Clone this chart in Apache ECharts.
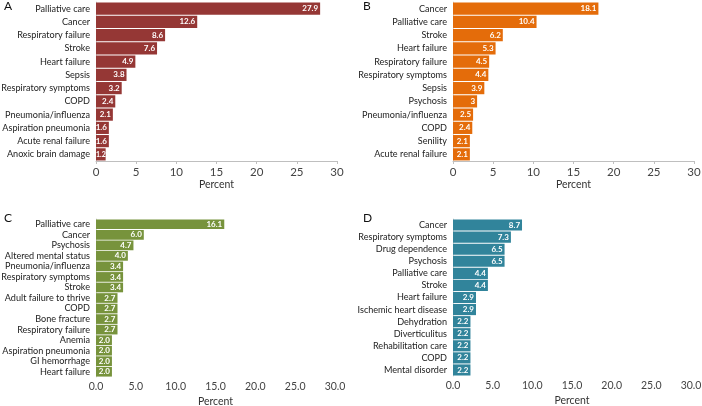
<!DOCTYPE html>
<html>
<head>
<meta charset="utf-8">
<script src="https://cdn.jsdelivr.net/npm/echarts@6/dist/echarts.min.js"></script>
<style>
html, body { margin: 0; padding: 0; background: #fff; }
#chart { width: 702px; height: 406px; }
</style>
</head>
<body>
<div id="chart"></div>
<script>
var catsA = ["Palliative care", "Cancer", "Respiratory failure", "Stroke", "Heart failure", "Sepsis",
    "Respiratory symptoms", "COPD", "Pneumonia/influenza", "Aspiration pneumonia", "Acute renal failure", "Anoxic brain damage"];
var valsA = [27.9, 12.6, 8.6, 7.6, 4.9, 3.8, 3.2, 2.4, 2.1, 1.6, 1.6, 1.2];

var catsB = ["Cancer", "Palliative care", "Stroke", "Heart failure", "Respiratory failure", "Respiratory symptoms",
    "Sepsis", "Psychosis", "Pneumonia/influenza", "COPD", "Senility", "Acute renal failure"];
var valsB = [18.1, 10.4, 6.2, 5.3, 4.5, 4.4, 3.9, 3, 2.5, 2.4, 2.1, 2.1];

var catsC = ["Palliative care", "Cancer", "Psychosis", "Altered mental status", "Pneumonia/influenza",
    "Respiratory symptoms", "Stroke", "Adult failure to thrive", "COPD", "Bone fracture", "Respiratory failure",
    "Anemia", "Aspiration pneumonia", "GI hemorrhage", "Heart failure"];
var valsC = [16.1, 6.0, 4.7, 4.0, 3.4, 3.4, 3.4, 2.7, 2.7, 2.7, 2.7, 2.0, 2.0, 2.0, 2.0];

var catsD = ["Cancer", "Respiratory symptoms", "Drug dependence", "Psychosis", "Palliative care", "Stroke",
    "Heart failure", "Ischemic heart disease", "Dehydration", "Diverticulitus", "Rehabilitation care", "COPD", "Mental disorder"];
var valsD = [8.7, 7.3, 6.5, 6.5, 4.4, 4.4, 2.9, 2.9, 2.2, 2.2, 2.2, 2.2, 2.2];

var fontName = "Lato";

// size category labels so the longest one is ~89px wide, like the original
var ctx = document.createElement("canvas").getContext("2d");
ctx.font = "20px Lato";
var labelSize = Math.round(20 * 89 / ctx.measureText("Respiratory symptoms").width * 10) / 10;

var panels = [
    {letter: "A", cats: catsA, vals: valsA, color: "#953735", grid: {left: 96, top: 2, width: 241, height: 159}, dec: false, lx: 4, ly: 0},
    {letter: "B", cats: catsB, vals: valsB, color: "#E46C0A", grid: {left: 453, top: 2, width: 241, height: 159}, dec: false, lx: 363, ly: 0},
    {letter: "C", cats: catsC, vals: valsC, color: "#77933C", grid: {left: 96, top: 219, width: 239, height: 158}, dec: true, lx: 4, ly: 212},
    {letter: "D", cats: catsD, vals: valsD, color: "#31849B", grid: {left: 453, top: 219, width: 238, height: 157}, dec: true, lx: 363, ly: 212}
];

var grids = [], xAxes = [], yAxes = [], series = [], titles = [];
panels.forEach(function(p, i){
    var g = p.grid;
    g.containLabel = false;
    g.outerBoundsMode = "none";
    grids.push(g);
    xAxes.push({
        gridIndex: i, type: "value", min: 0, max: 30, interval: 5,
        name: "Percent", nameLocation: "middle", nameGap: p.dec ? 19 : 18,
        nameTextStyle: {color: "#333", fontFamily: fontName, fontSize: 10.5},
        axisLine: {show: !p.dec, lineStyle: {color: "#bfbfbf"}},
        axisTick: {show: !p.dec, length: 3, lineStyle: {color: "#bfbfbf"}},
        splitLine: {show: false},
        axisLabel: {
            color: "#444", fontFamily: fontName, fontSize: p.dec ? 10.5 : 11.5, margin: p.dec ? 4 : 5,
            formatter: function(v){ return p.dec ? v.toFixed(1) : String(v); }
        }
    });
    yAxes.push({
        gridIndex: i, type: "category", data: p.cats, inverse: true,
        axisLine: {show: true, lineStyle: {color: "#d9d9d9"}},
        axisTick: {show: false},
        axisLabel: {color: "#222", fontFamily: fontName, fontSize: labelSize, margin: 6, interval: 0}
    });
    series.push({
        type: "bar", xAxisIndex: i, yAxisIndex: i,
        // very short bars: start the label at the bar's left edge so it stays on the colour
        data: p.vals.map(function(v){
            return v < 1.5 ? {value: v, label: {position: "insideLeft", distance: 0, fontSize: 7}} : v;
        }),
        barCategoryGap: "8%",
        clip: false,
        itemStyle: {color: p.color},
        label: {
            show: true, position: "insideRight", color: "#fff", fontFamily: fontName,
            fontSize: 8, fontWeight: "bold", distance: 2,
            formatter: function(d){ return p.dec ? d.value.toFixed(1) : String(d.value); }
        },
        labelLayout: {hideOverlap: false}
    });
    titles.push({
        text: p.letter, left: p.lx, top: p.ly, padding: 0,
        textStyle: {color: "#111", fontFamily: fontName, fontSize: 12, fontWeight: "normal"}
    });
});

var myChart = echarts.init(document.getElementById("chart"));
myChart.setOption({
    animation: false,
    title: titles,
    grid: grids,
    xAxis: xAxes,
    yAxis: yAxes,
    series: series
});
</script>
</body>
</html>
